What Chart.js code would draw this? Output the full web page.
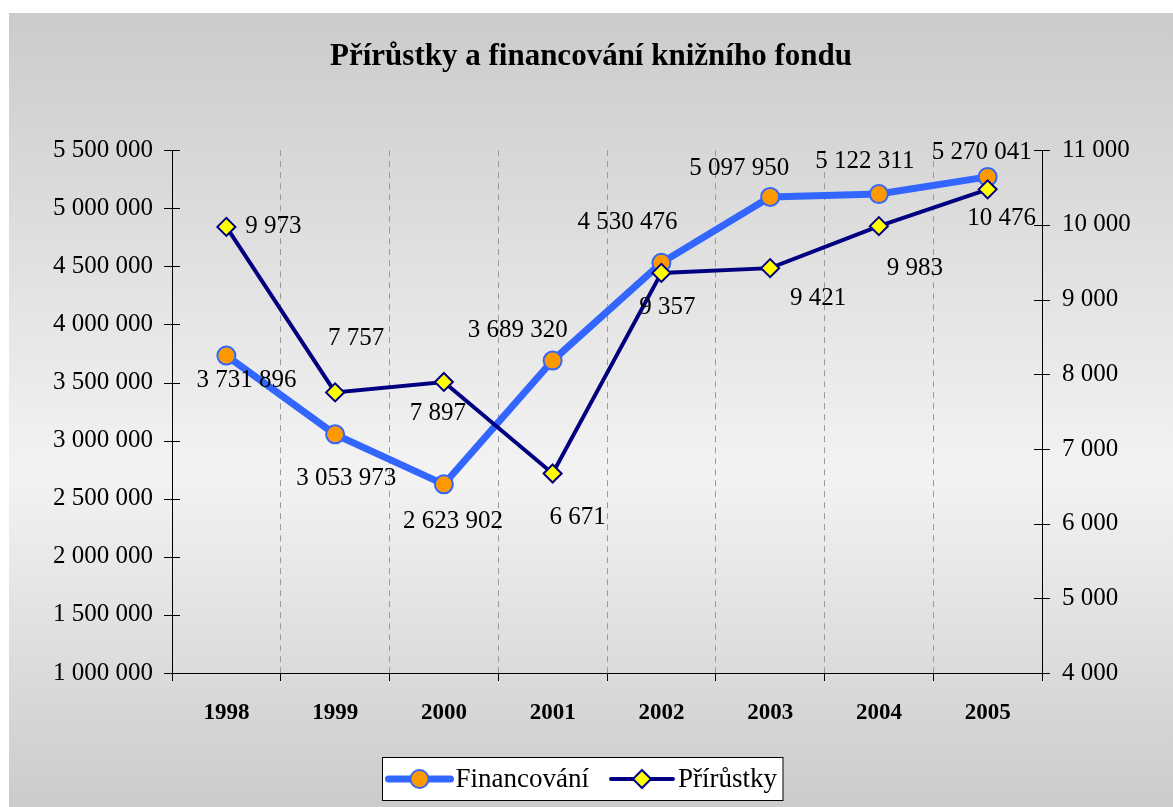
<!DOCTYPE html>
<html lang="cs">
<head>
<meta charset="UTF-8">
<title>Přírůstky a financování knižního fondu</title>
<script src="https://cdn.jsdelivr.net/npm/chart.js@4/dist/chart.umd.min.js"></script>
<style>
    body { margin: 0; background: #fff; }
    canvas { display: block; }
</style>
</head>
<body>
<canvas id="canvas" width="1173" height="807"></canvas>
<script>
    const years = ["1998", "1999", "2000", "2001", "2002", "2003", "2004", "2005"];
    const financovani = [3731896, 3053973, 2623902, 3689320, 4530476, 5097950, 5122311, 5270041];
    const prirustky = [9973, 7757, 7897, 6671, 9357, 9421, 9983, 10476];

    // label offsets relative to each point (dx, dy)
    const finLabelOffsets = [[20, 24], [11, 43], [9, 36], [-35, -31], [-34, -41], [-31, -29], [-14, -34], [-6, -25]];
    const priLabelOffsets = [[47, -1], [21, -55], [-6, 30], [25, 43], [6, 34], [48, 29], [36, 41], [14, 28]];

    const serif = "'Liberation Serif', 'DejaVu Serif', serif";

    function spaced(v) {
        return String(Math.round(v)).replace(/\B(?=(\d{3})+(?!\d))/g, " ");
    }

    const canvas = document.getElementById("canvas");
    const ctx = canvas.getContext("2d");

    const backgroundPlugin = {
        id: "bg",
        beforeDraw(chart) {
            const c = chart.ctx;
            const g = c.createLinearGradient(0, 13, 0, 807);
            g.addColorStop(0, "#cbcbcb");
            g.addColorStop(0.58, "#f3f3f3");
            g.addColorStop(1, "#cbcbcb");
            c.save();
            c.fillStyle = g;
            c.fillRect(9, 13, 1164, 794);
            c.restore();
        }
    };

    // y axis tick marks crossing the axis line
    const crossTicksPlugin = {
        id: "crossTicks",
        afterDraw(chart) {
            const c = chart.ctx;
            c.save();
            c.strokeStyle = "#000";
            c.lineWidth = 1;
            ["y", "y2"].forEach(id => {
                const s = chart.scales[id];
                const x = id === "y" ? s.right : s.left;
                s.ticks.forEach((t, i) => {
                    const py = Math.round(s.getPixelForTick(i)) + 0.5;
                    c.beginPath();
                    c.moveTo(x - 8, py);
                    c.lineTo(x + 8, py);
                    c.stroke();
                });
            });
            c.restore();
        }
    };

    const valueLabelsPlugin = {
        id: "valueLabels",
        afterDatasetsDraw(chart) {
            const c = chart.ctx;
            c.save();
            c.font = "25px " + serif;
            c.fillStyle = "#000";
            c.textAlign = "center";
            c.textBaseline = "middle";
            chart.data.datasets.forEach((ds, di) => {
                const meta = chart.getDatasetMeta(di);
                const offs = ds.labelOffsets;
                meta.data.forEach((pt, i) => {
                    c.fillText(spaced(ds.data[i]), pt.x + offs[i][0], pt.y + offs[i][1] + 1);
                });
            });
            c.restore();
        }
    };

    const boxLegendPlugin = {
        id: "boxLegend",
        afterDraw(chart) {
            const c = chart.ctx;
            c.save();
            c.font = "27px " + serif;
            const items = [chart.data.datasets[0], chart.data.datasets[1]];
            const sample = 62, gap = 5, between = 22, pad = 6;
            let total = pad * 2;
            items.forEach((ds, i) => {
                total += sample + gap + c.measureText(ds.label).width + (i ? 0 : between);
            });
            const boxX = Math.round(582 - total / 2) + 0.5;
            const boxY = 757.5, boxH = 43;
            c.fillStyle = "#fff";
            c.fillRect(boxX, boxY, total, boxH);
            c.strokeStyle = "#000";
            c.lineWidth = 1;
            c.strokeRect(boxX, boxY, total, boxH);
            let x = boxX + pad;
            const cy = boxY + boxH / 2;
            items.forEach((ds) => {
                c.strokeStyle = ds.borderColor;
                c.lineWidth = ds.borderWidth;
                c.lineCap = "round";
                c.beginPath();
                c.moveTo(x, cy);
                c.lineTo(x + sample, cy);
                c.stroke();
                c.fillStyle = ds.pointBackgroundColor;
                c.strokeStyle = ds.pointBorderColor;
                c.lineWidth = ds.pointBorderWidth;
                c.beginPath();
                const mx = x + sample / 2, r = ds.pointRadius;
                if (ds.pointStyle === "circle") {
                    c.arc(mx, cy, r, 0, Math.PI * 2);
                } else {
                    c.moveTo(mx, cy - r);
                    c.lineTo(mx + r, cy);
                    c.lineTo(mx, cy + r);
                    c.lineTo(mx - r, cy);
                    c.closePath();
                }
                c.fill();
                c.stroke();
                x += sample + gap;
                c.fillStyle = "#000";
                c.textAlign = "left";
                c.textBaseline = "middle";
                c.fillText(ds.label, x, cy + 1);
                x += c.measureText(ds.label).width + between;
            });
            c.restore();
        }
    };

    const chart = new Chart(ctx, {
        type: "line",
        data: {
            labels: years,
            datasets: [
                {
                    label: "Financování",
                    data: financovani,
                    yAxisID: "y",
                    borderColor: "#3366ff",
                    borderWidth: 7,
                    pointStyle: "circle",
                    pointRadius: 9,
                    pointHoverRadius: 9,
                    pointBackgroundColor: "#ff9900",
                    pointBorderColor: "#3366ff",
                    pointBorderWidth: 2,
                    tension: 0,
                    order: 1,
                    labelOffsets: finLabelOffsets
                },
                {
                    label: "Přírůstky",
                    data: prirustky,
                    yAxisID: "y2",
                    borderColor: "#000080",
                    borderWidth: 4,
                    pointStyle: "rectRot",
                    pointRadius: 9,
                    pointHoverRadius: 9,
                    pointBackgroundColor: "#ffff00",
                    pointBorderColor: "#000080",
                    pointBorderWidth: 2,
                    tension: 0,
                    order: 0,
                    labelOffsets: priLabelOffsets
                }
            ]
        },
        options: {
            responsive: false,
            animation: false,
            layout: { padding: { left: 9, top: 13, right: 0, bottom: 0 } },
            plugins: {
                legend: { display: false },
                tooltip: { enabled: false },
                title: {
                    display: true,
                    text: "Přírůstky a financování knižního fondu",
                    color: "#000",
                    font: { family: serif, size: 31, weight: "bold" },
                    padding: { top: 25, bottom: 75 }
                }
            },
            scales: {
                x: {
                    offset: true,
                    grid: {
                        offset: true,
                        color: "#9a9a9a",
                        tickColor: "#000",
                        tickLength: 8,
                        tickBorderDash: []
                    },
                    border: { color: "#000", width: 1, dash: [6, 5] },
                    ticks: {
                        color: "#000",
                        padding: 18,
                        font: { family: serif, size: 23, weight: "bold" }
                    },
                    afterFit(s) { s.height = 134; }
                },
                y: {
                    position: "left",
                    min: 1000000,
                    max: 5500000,
                    ticks: {
                        stepSize: 500000,
                        color: "#000",
                        padding: 19,
                        font: { family: serif, size: 25 },
                        callback: v => spaced(v)
                    },
                    grid: { drawOnChartArea: false, drawTicks: false },
                    border: { color: "#000", width: 1 },
                    afterFit(s) { s.width = 163; }
                },
                y2: {
                    position: "right",
                    min: 4000,
                    max: 11000,
                    ticks: {
                        stepSize: 1000,
                        color: "#000",
                        padding: 20,
                        font: { family: serif, size: 25 },
                        callback: v => spaced(v)
                    },
                    grid: { drawOnChartArea: false, drawTicks: false },
                    border: { color: "#000", width: 1 },
                    afterFit(s) { s.width = 131; }
                }
            }
        },
        plugins: [backgroundPlugin, crossTicksPlugin, valueLabelsPlugin, boxLegendPlugin]
    });
</script>
</body>
</html>
